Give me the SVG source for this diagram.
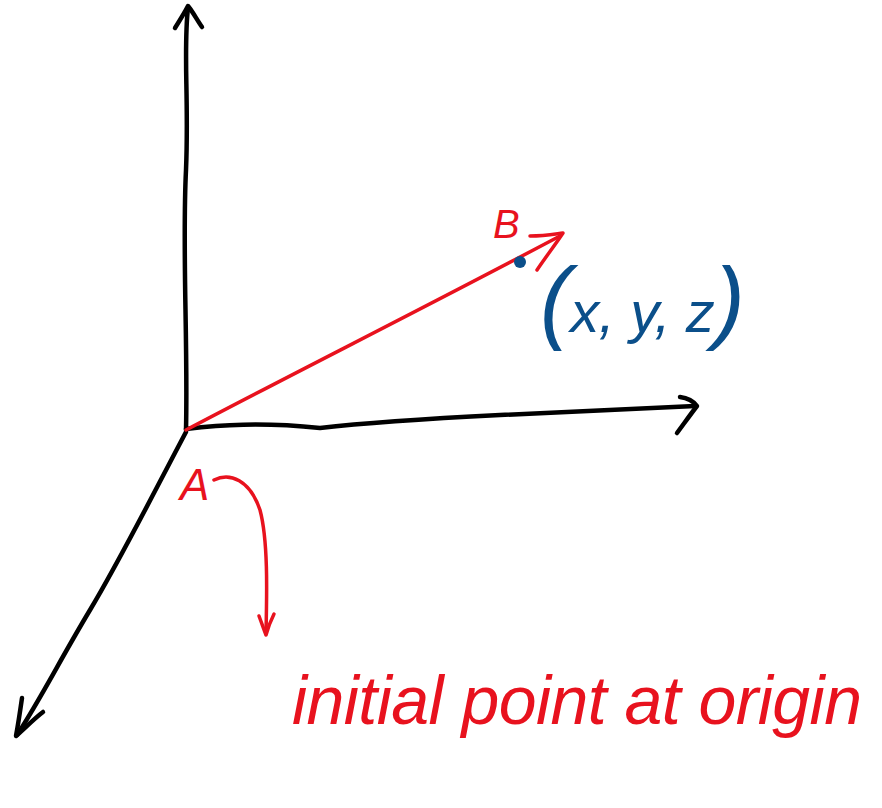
<svg xmlns="http://www.w3.org/2000/svg" width="882" height="808" viewBox="0 0 882 808">
<style>
.ax{fill:none;stroke:#000;stroke-width:4.5;stroke-linecap:round;stroke-linejoin:round}
.rd{fill:none;stroke:#e8121e;stroke-width:3.5;stroke-linecap:round;stroke-linejoin:round}
.rt{fill:#e8121e;font-family:"Liberation Sans",Arial,sans-serif;font-style:italic}
.bt{fill:#0b4f8a;font-family:"Liberation Sans",Arial,sans-serif;font-style:italic}
</style>
<rect width="882" height="808" fill="#fff"/>
<g id="axes">
<path class="ax" d="M186,430 C188,340 182,250 186,170 C189,100 183,50 188,8"/>
<path class="ax" d="M175,28 C180,20 185,12 188,6 C193,12 197,20 202,27"/>
<path class="ax" d="M186,429 C220,425 260,422 320,428 C380,421 440,418 500,415 C580,411 640,408 695,406"/>
<path class="ax" d="M680,397 C688,398 694,402 697,406 C690,415 683,425 677,433"/>
<path class="ax" d="M186,432 C150,500 120,560 90,610 C60,660 40,700 17,735"/>
<path class="ax" d="M22,698 C20,712 18,725 16,736 C25,728 35,718 43,712"/>
</g>
<g id="vector">
<path class="rd" d="M186,430 C300,370 420,310 560,236"/>
<path class="rd" d="M530,236 C545,236 555,234 563,233 C555,245 545,258 537,270"/>
<circle cx="520" cy="262" r="6" fill="#0b4f8a"/>
</g>
<g id="labelB"><text class="rt" x="493" y="238" font-size="40">B</text></g>
<g id="coords"><text class="bt" x="540" y="332" textLength="205" lengthAdjust="spacing"><tspan font-size="92">(</tspan><tspan font-size="58">x, y, z</tspan><tspan font-size="92">)</tspan></text></g>
<g id="labelA"><text class="rt" x="180" y="500" font-size="44">A</text></g>
<g id="callout">
<path class="rd" d="M214,480 C230,472 250,480 260,510 C268,540 267,590 266,633"/>
<path class="rd" d="M259,616 C262,624 264,630 266,635 C268,628 271,620 274,614"/>
</g>
<g id="caption"><text class="rt" x="292" y="724" font-size="68" textLength="570" lengthAdjust="spacing">initial point at origin</text></g>
</svg>
